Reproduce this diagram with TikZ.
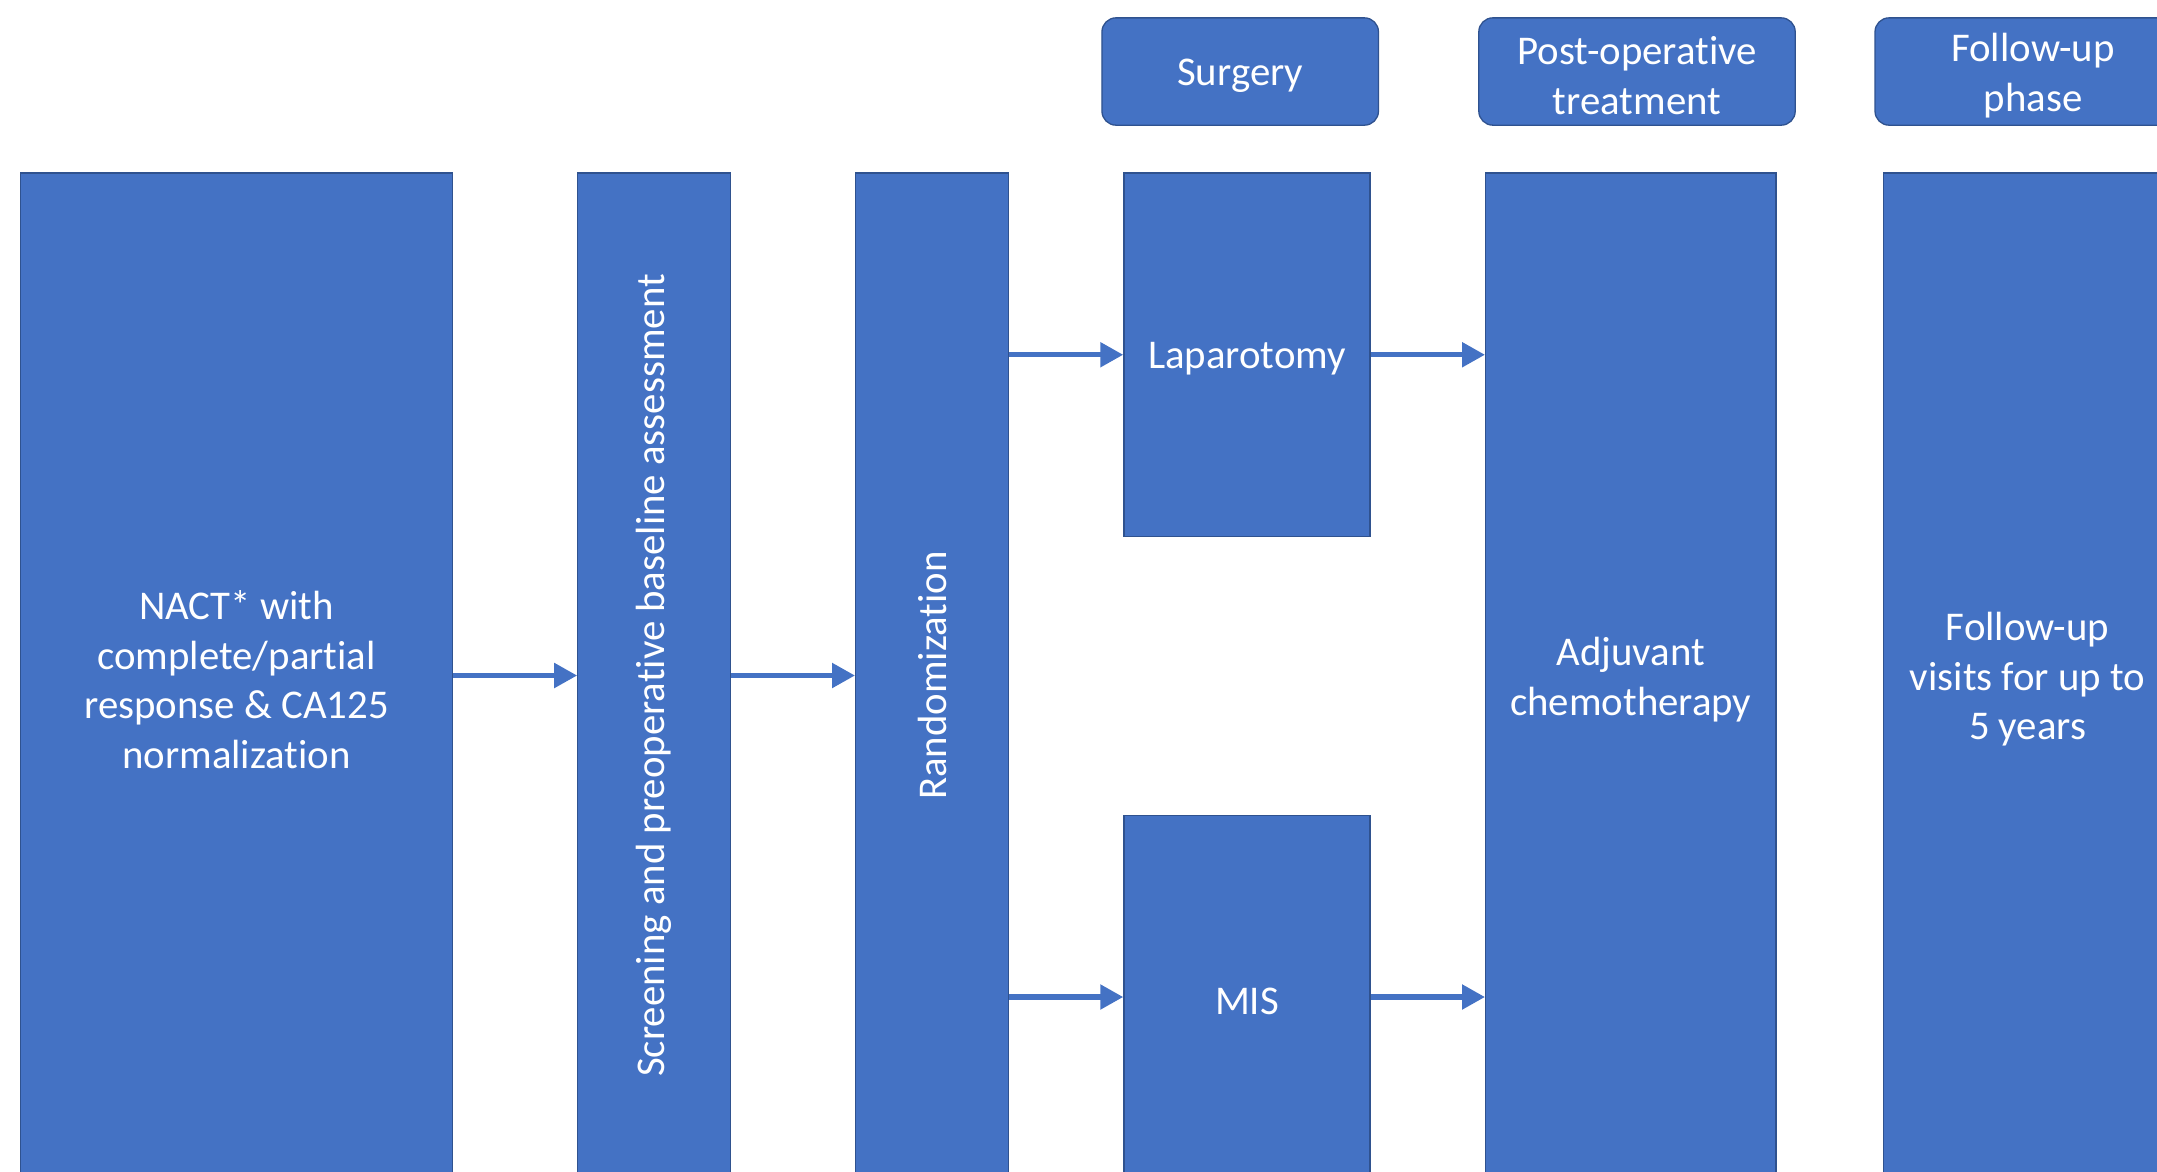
\documentclass[tikz,border=0pt]{standalone}
\usepackage{fontspec}
\setmainfont{Carlito}[Ligatures={NoCommon}]
\usetikzlibrary{arrows.meta}
\definecolor{boxblue}{HTML}{4472C4}
\definecolor{edgeblue}{HTML}{2F528F}
\begin{document}
\begin{tikzpicture}[x=1pt,y=-1pt,
  box/.style={rectangle, fill=boxblue, draw=edgeblue, line width=1.3pt, inner sep=0pt},
  head/.style={box, rounded corners=14pt},
  vtxt/.style={text=white, align=center, font=\fontsize{40.8}{49.5}\selectfont},
  txt/.style={vtxt, yshift=-4pt},
  flow/.style={draw=boxblue, line width=5.3pt, -{Triangle[length=23pt,width=24pt]}}]
\useasboundingbox (0,0) rectangle (2157,1171);
\clip (0,0) rectangle (2157,1171);
% header boxes
\node[head, minimum width=276.5pt, minimum height=107.3pt] (hsurg) at (1240.2,71.5) {};
\node[txt] at (hsurg) {Surgery};
\node[head, minimum width=316.4pt, minimum height=107.3pt] (hpost) at (1637,71.5) {};
\node[txt] at (hpost) {Post-operative\\treatment};
\node[head, minimum width=316pt, minimum height=107.3pt] (hfol) at (2033,71.5) {};
\node[txt] at (hfol) {Follow-up\\phase};
% main boxes
\node[box, minimum width=432pt, minimum height=1005pt] (nact) at (236.6,675.5) {};
\node[txt] at (nact) {NACT* with\\complete/partial\\response \& CA125\\normalization};
\node[box, minimum width=152.6pt, minimum height=1005pt] (scr) at (654.1,675.5) {};
\node[vtxt, rotate=90] at (scr) {Screening and preoperative baseline assessment};
\node[box, minimum width=152.7pt, minimum height=1005pt] (rnd) at (932,675.5) {};
\node[vtxt, rotate=90] at (rnd) {Randomization};
\node[box, minimum width=246.2pt, minimum height=363.5pt] (lap) at (1247,354.75) {};
\node[txt] at (lap) {Laparotomy};
\node[box, minimum width=246.2pt, minimum height=363.5pt] (mis) at (1247,997) {};
\node[txt] at (mis) {MIS};
\node[box, minimum width=290.3pt, minimum height=1005pt] (adj) at (1630.8,675.5) {};
\node[txt] at (adj) {Adjuvant\\chemotherapy};
\node[box, minimum width=288.8pt, minimum height=1005pt] (fol) at (2027.6,675.5) {};
\node[txt] at (fol) {Follow-up\\visits for up to\\5 years};
% arrows
\draw[flow] (nact.east) -- (scr.west);
\draw[flow] (scr.east) -- (rnd.west);
\draw[flow] (rnd.east |- lap.west) -- (lap.west);
\draw[flow] (rnd.east |- mis.west) -- (mis.west);
\draw[flow] (lap.east) -- (adj.west |- lap.east);
\draw[flow] (mis.east) -- (adj.west |- mis.east);
\end{tikzpicture}
\end{document}
